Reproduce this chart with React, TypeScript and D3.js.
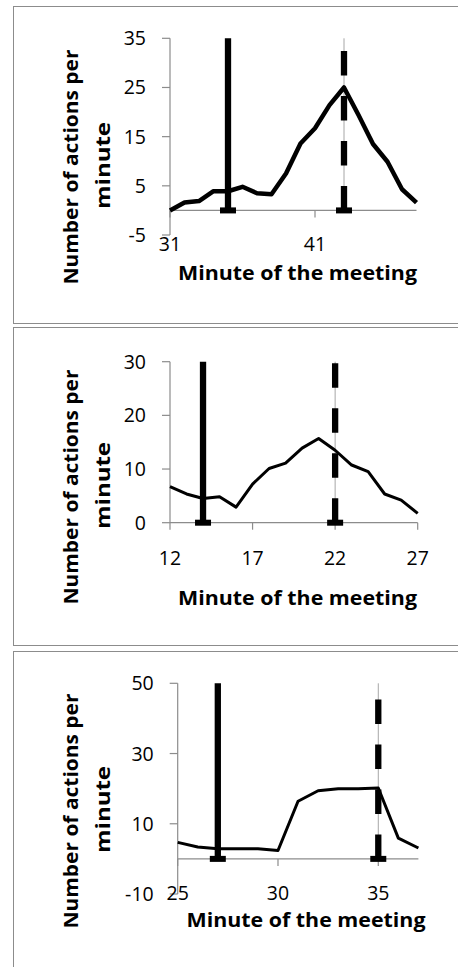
import React from 'react';
import * as d3 from 'd3';

// panel 1 – meeting A
const minutesA = [31, 32, 33, 34, 35, 36, 37, 38, 39, 40, 41, 42, 43, 44, 45, 46, 47, 48];
const actionsA = [0, 1.6, 1.9, 3.9, 3.9, 4.8, 3.5, 3.3, 7.5, 13.6, 16.7, 21.4, 25, 19.4, 13.5, 9.9, 4.3, 1.6];
const xTicksA = [31, 41];
const yTicksA = [-5, 5, 15, 25, 35];

// panel 2 – meeting B
const minutesB = [12, 13, 14, 15, 16, 17, 18, 19, 20, 21, 22, 23, 24, 25, 26, 27];
const actionsB = [6.7, 5.35, 4.5, 4.85, 2.9, 7.2, 10.1, 11.1, 13.9, 15.7, 13.5, 10.75, 9.5, 5.35, 4.2, 1.75];
const xTicksB = [12, 17, 22, 27];
const yTicksB = [0, 10, 20, 30];

// panel 3 – meeting C
const minutesC = [25, 26, 27, 28, 29, 30, 31, 32, 33, 34, 35, 36, 37];
const actionsC = [4.7, 3.4, 2.9, 2.9, 2.9, 2.4, 16.4, 19.4, 20, 20, 20.2, 5.9, 3.1];
const xTicksC = [25, 30, 35];
const yTicksC = [-10, 10, 30, 50];

// solid marker / dashed marker minute per panel
const solidMarks = [35, 14, 27];
const dashedMarks = [43, 22, 35];

const panels = [
  {
    minutes: minutesA, actions: actionsA, xTicks: xTicksA, yTicks: yTicksA,
    xDomain: [31, 48], yDomain: [-5, 35],
    left: 170, right: 416.5, top: 38.3, bottom: 235,
    frameY: 6, frameH: 317, lineW: 4.5,
    xLabelY: 251, xTitleY: 279.5, xTitleX: 297.5, yTitleCY: 167,
  },
  {
    minutes: minutesB, actions: actionsB, xTicks: xTicksB, yTicks: yTicksB,
    xDomain: [12, 27], yDomain: [0, 30],
    left: 170, right: 417.7, top: 361.7, bottom: 522.7,
    frameY: 327, frameH: 318, lineW: 3,
    xLabelY: 564.5, xTitleY: 605, xTitleX: 297.5, yTitleCY: 487,
  },
  {
    minutes: minutesC, actions: actionsC, xTicks: xTicksC, yTicks: yTicksC,
    xDomain: [25, 37], yDomain: [-10, 50],
    left: 177.7, right: 418.4, top: 683.3, bottom: 894,
    frameY: 651, frameH: 340, lineW: 3,
    xLabelY: 899.5, xTitleY: 927, xTitleX: 306, yTitleCY: 811,
  },
];

const grey = '#8c8c8c';
const font = "'Open Sans', sans-serif";

const Panel = ({ p, i }) => {
  const x = d3.scaleLinear().domain(p.xDomain).range([p.left, p.right]);
  const y = d3.scaleLinear().domain(p.yDomain).range([p.bottom, p.top]);
  const y0 = y(0);
  const line = d3.line().x((d) => x(d[0])).y((d) => y(d[1]));
  const pts = p.minutes.map((m, k) => [m, p.actions[k]]);
  const sx = x(solidMarks[i]);
  const dx = x(dashedMarks[i]);
  const yTop = y(p.yDomain[1]);

  return (
    <g>
      <rect x={13.5} y={p.frameY + 0.5} width={500} height={p.frameH} fill="none" stroke={grey} strokeWidth={1} />
      {/* axes */}
      <line x1={p.left} x2={p.left} y1={p.top} y2={p.bottom} stroke={grey} strokeWidth={1.2} />
      <line x1={p.left} x2={p.right} y1={y0} y2={y0} stroke={grey} strokeWidth={1.2} />
      {p.yTicks.map((t) => (
        <g key={'y' + t}>
          <line x1={p.left - 8} x2={p.left} y1={y(t)} y2={y(t)} stroke={grey} strokeWidth={1.2} />
          <text x={p.left - 24} y={y(t)} dy="0.36em" textAnchor="end" fontFamily={font} fontSize={19.5} fill="#000">
            {t}
          </text>
        </g>
      ))}
      {p.xTicks.map((t) => (
        <g key={'x' + t}>
          <line x1={x(t)} x2={x(t)} y1={y0} y2={y0 + 7} stroke={grey} strokeWidth={1.2} />
          <text x={x(t)} y={p.xLabelY} textAnchor="middle" fontFamily={font} fontSize={19.5} fill="#000">
            {t}
          </text>
        </g>
      ))}
      {/* thin guide behind dashed marker */}
      <line x1={dx} x2={dx} y1={yTop} y2={y0} stroke="#a6a6a6" strokeWidth={1} />
      {/* data line */}
      <path d={line(pts)} fill="none" stroke="#000" strokeWidth={p.lineW} strokeLinejoin="round" />
      {/* solid marker */}
      <line x1={sx} x2={sx} y1={y0} y2={yTop} stroke="#000" strokeWidth={6.3} />
      <rect x={sx - 8} y={y0 - 3} width={16} height={6} fill="#000" />
      {/* dashed marker */}
      <line x1={dx} x2={dx} y1={y0} y2={yTop} stroke="#000" strokeWidth={6.3} strokeDasharray="24.5 20.5" />
      <rect x={dx - 8} y={y0 - 3} width={16} height={6} fill="#000" />
      {/* titles */}
      <text x={p.xTitleX} y={p.xTitleY} textAnchor="middle" fontFamily={font} fontWeight="bold" fontSize={19.5}
        textLength={239} lengthAdjust="spacingAndGlyphs" fill="#000">
        Minute of the meeting
      </text>
      <g transform={`translate(77.7,${p.yTitleCY}) rotate(-90)`}>
        <text x={0} y={0} textAnchor="middle" fontFamily={font} fontWeight="bold" fontSize={19.5}
          textLength={235} lengthAdjust="spacingAndGlyphs" fill="#000">
          Number of actions per
        </text>
      </g>
      <g transform={`translate(110,${p.yTitleCY - 1.5}) rotate(-90)`}>
        <text x={0} y={0} textAnchor="middle" fontFamily={font} fontWeight="bold" fontSize={19.5}
          textLength={87} lengthAdjust="spacingAndGlyphs" fill="#000">
          minute
        </text>
      </g>
    </g>
  );
};

const App = () => {
  return (
    <svg width={458} height={967} style={{ position: 'absolute', left: 0, top: 0, background: '#fff' }}>
      <rect x={0} y={0} width={458} height={967} fill="#fff" />
      {panels.map((p, i) => (
        <Panel key={i} p={p} i={i} />
      ))}
    </svg>
  );
};

export default App;
